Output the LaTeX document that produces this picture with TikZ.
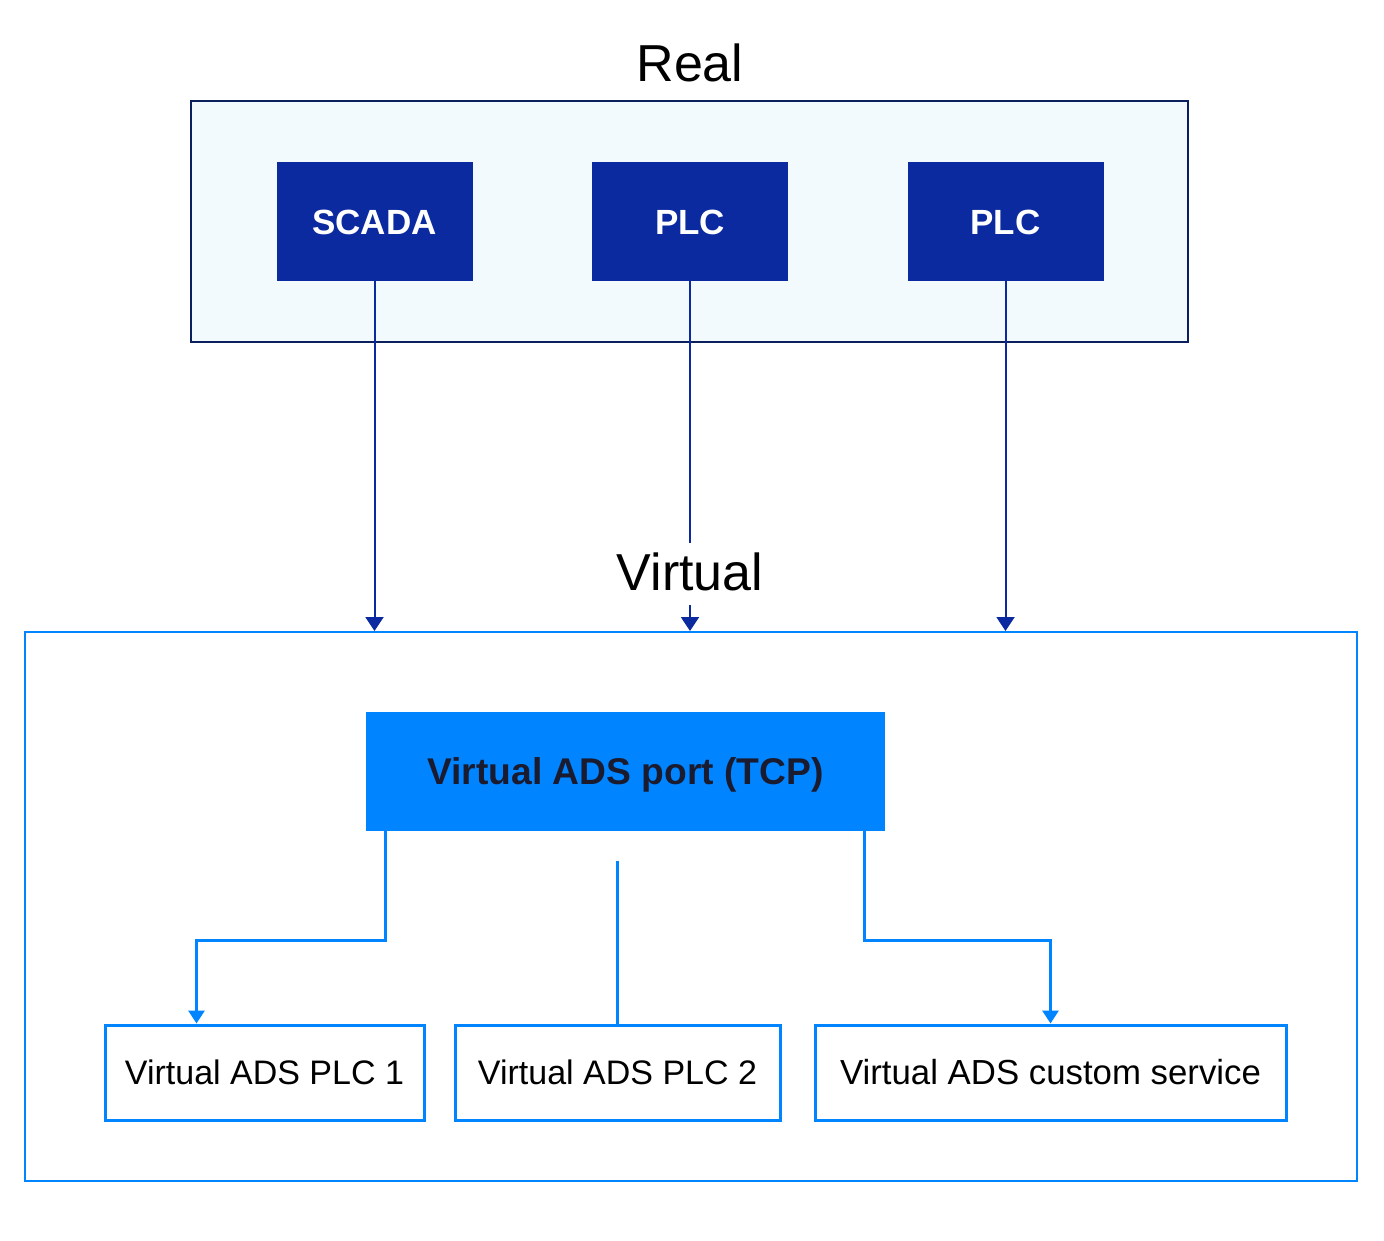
\documentclass[tikz,border=0pt]{standalone}
\usepackage{fontspec}
\setmainfont{Liberation Sans}
\usetikzlibrary{arrows.meta}
\definecolor{navy}{HTML}{0B2A9F}
\definecolor{navyline}{HTML}{0B1F5C}
\definecolor{palebg}{HTML}{F3FAFE}
\definecolor{brightblue}{HTML}{0084FF}
\definecolor{porttext}{HTML}{1B1B2F}

\begin{document}
\begin{tikzpicture}[x=0.5pt, y=-0.5pt,
    every node/.style = {inner sep=0pt, align=center},
    title/.style = {font=\fontsize{26}{30}\selectfont, anchor=base},
    realbox/.style = {draw=navyline, line width=1pt, fill=palebg,
        minimum width=498.5pt, minimum height=120.5pt},
    virtbox/.style = {draw=brightblue, line width=1pt, fill=white,
        minimum width=666pt, minimum height=274.5pt},
    hwbox/.style = {fill=navy, text=white, font=\fontsize{17.5}{21}\bfseries,
        text height=12.6pt, text depth=0pt,
        minimum width=98pt, minimum height=59.5pt},
    portbox/.style = {fill=brightblue, text=porttext, font=\fontsize{18.6}{22}\bfseries,
        text height=13.4pt, text depth=0pt,
        minimum width=259.5pt, minimum height=59.5pt},
    svcbox/.style = {draw=brightblue, line width=1.5pt, fill=white,
        font=\fontsize{17}{20}\selectfont, text height=12.2pt, text depth=0pt,
        minimum height=47.5pt},
    navyarrow/.style = {draw=navy, line width=1pt, -{Triangle[width=9pt,length=7pt]}},
    navyline/.style = {draw=navy, line width=1pt},
    bluearrow/.style = {draw=brightblue, line width=1.5pt, -{Triangle[width=8pt,length=6.5pt]}},
    blueline/.style = {draw=brightblue, line width=1.5pt}]
    \useasboundingbox (0,0) rectangle (1384,1240);

    \node[title] (realtitle) at (690,82) {Real};
    \node[realbox] (real) at (689.5,221.5) {};
    \node[hwbox] (scada) at (374.5,221.5) {SCADA};
    \node[hwbox] (plca) at (690,221.5) {PLC};
    \node[hwbox] (plcb) at (1005.5,221.5) {PLC};

    \node[virtbox] (virt) at (691,906.5) {};
    \node[title, text height=19pt, text depth=3pt, inner ysep=4.5pt] (virttitle) at (690,590) {Virtual};
    \node[portbox] (port) at (625.5,771.5) {Virtual ADS port (TCP)};
    \node[svcbox, minimum width=159.5pt] (plc1) at (264.5,1072.5) {Virtual ADS PLC 1};
    \node[svcbox, minimum width=162.5pt] (plc2) at (617.5,1072.5) {Virtual ADS PLC 2};
    \node[svcbox, minimum width=235.5pt, font=\fontsize{17.4}{20}\selectfont] (custom) at (1050.5,1072.5) {Virtual ADS custom service};

    \draw[navyarrow] (scada) -- (scada |- virt.north);
    \draw[navyline] (plca) -- (virttitle);
    \draw[navyarrow] (virttitle) -- (plca |- virt.north);
    \draw[navyarrow] (plcb) -- (plcb |- virt.north);

    \draw[bluearrow] ([xshift=10pt]port.south west) -- ++(0,109) -| ([xshift=46.5pt]plc1.north west);
    \draw[bluearrow] ([xshift=-10.5pt]port.south east) -- ++(0,109) -| (custom.north);
    \draw[blueline] (plc2.north) -- ++(0,-163);
\end{tikzpicture}
\end{document}
